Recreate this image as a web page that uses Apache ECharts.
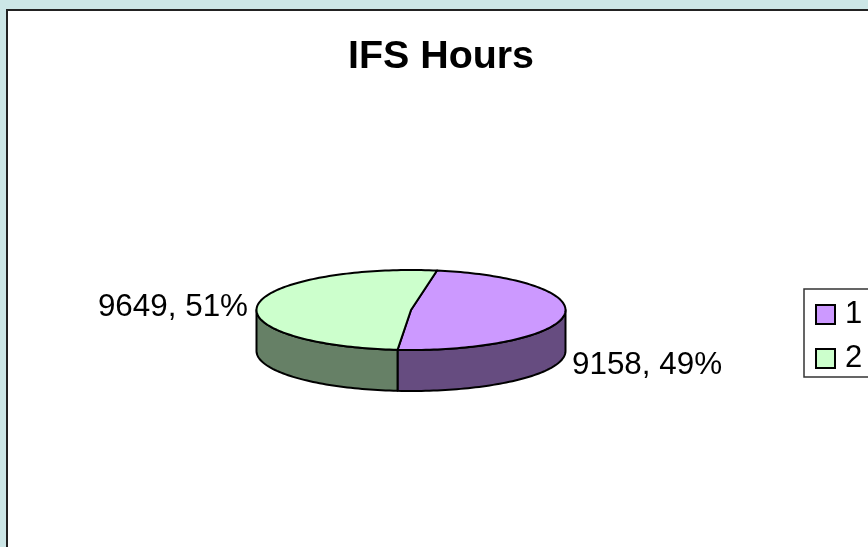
<!DOCTYPE html>
<html><head><meta charset="utf-8">
<style>html,body{margin:0;padding:0;background:#CCE6E6}#c{width:868px;height:547px}</style>
<script src="https://cdn.jsdelivr.net/npm/echarts@6/dist/echarts.min.js"></script>
</head><body><div id="c"></div>
<script>
const titleText = 'IFS Hours';
const categories = ['1', '2'];
const hours = [9158, 9649];
const total = hours[0] + hours[1];

const FONT = '"Liberation Sans", Arial, sans-serif';
const TOP = { cx: 411, cy: 310, rx: 154.5, ry: 40, depth: 41, start: 9.7 };
const colors = ['#CC99FF', '#CCFFCC'];
const sides = ['#664C80', '#668066'];
const labelAnchors = [
  { x: 572, y: 365 },
  { x: 248, y: 307.5, align: 'right' }
];

function pt(deg, dy) {
  const t = deg * Math.PI / 180;
  return [TOP.cx + TOP.rx * Math.sin(t), TOP.cy - TOP.ry * Math.cos(t) + (dy || 0)];
}
function arc(a, b, dy) {
  const n = Math.max(2, Math.ceil(Math.abs(b - a) / 1.5));
  const out = [];
  for (let i = 0; i <= n; i++) out.push(pt(a + (b - a) * i / n, dy));
  return out;
}
function sliceRange(i) {
  let a = TOP.start;
  for (let k = 0; k < i; k++) a += hours[k] / total * 360;
  return [a, a + hours[i] / total * 360];
}
const lineStyle = { stroke: '#000', lineWidth: 2, lineJoin: 'round' };

function makeRender(i) {
  return function () {
    const [a, b] = sliceRange(i);
    const children = [];
    const s = Math.max(a, 90), e = Math.min(b, 270);
    if (e > s) {
      children.push({
        type: 'polygon',
        shape: { points: arc(s, e, 0).concat(arc(e, s, TOP.depth)) },
        style: Object.assign({ fill: sides[i] }, lineStyle)
      });
    }
    children.push({
      type: 'polygon',
      shape: { points: [[TOP.cx, TOP.cy]].concat(arc(a, b, 0)) },
      style: Object.assign({ fill: colors[i] }, lineStyle)
    });
    const pct = Math.round(hours[i] / total * 100);
    children.push({
      type: 'text',
      style: {
        x: labelAnchors[i].x, y: labelAnchors[i].y,
        text: hours[i] + ', ' + pct + '%',
        font: '31.4px ' + FONT, fill: '#000',
        textAlign: labelAnchors[i].align || 'left', textVerticalAlign: 'middle'
      }
    });
    return { type: 'group', children };
  };
}

const chart = echarts.init(document.getElementById('c'), null, { renderer: 'canvas' });
chart.setOption({
  animation: false,
  backgroundColor: '#CCE6E6',
  title: {
    text: titleText, left: 436, top: 33, textAlign: 'center',
    textStyle: { fontFamily: FONT, fontWeight: 'bold', fontSize: 39.4, color: '#000' }
  },
  graphic: [{
    type: 'rect', z: -10, silent: true,
    shape: { x: 7, y: 10, width: 880, height: 560 },
    style: { fill: '#fff', stroke: '#222', lineWidth: 2 }
  }],
  legend: {
    data: categories, orient: 'vertical', left: 804, top: 289, icon: 'rect',
    padding: [10, 30, 3, 11], itemGap: 13, itemWidth: 19, itemHeight: 19,
    borderColor: '#333', borderWidth: 1.5, backgroundColor: '#fff',
    textStyle: { fontFamily: FONT, fontSize: 31, color: '#000', lineHeight: 24, padding: [0, 0, 0, 5] }
  },
  series: categories.map((name, i) => ({
    type: 'custom', name, coordinateSystem: 'none',
    data: [hours[i]],
    renderItem: makeRender(i),
    itemStyle: { color: colors[i], borderColor: '#000', borderWidth: 1.5 },
    silent: true
  }))
});
</script></body></html>
